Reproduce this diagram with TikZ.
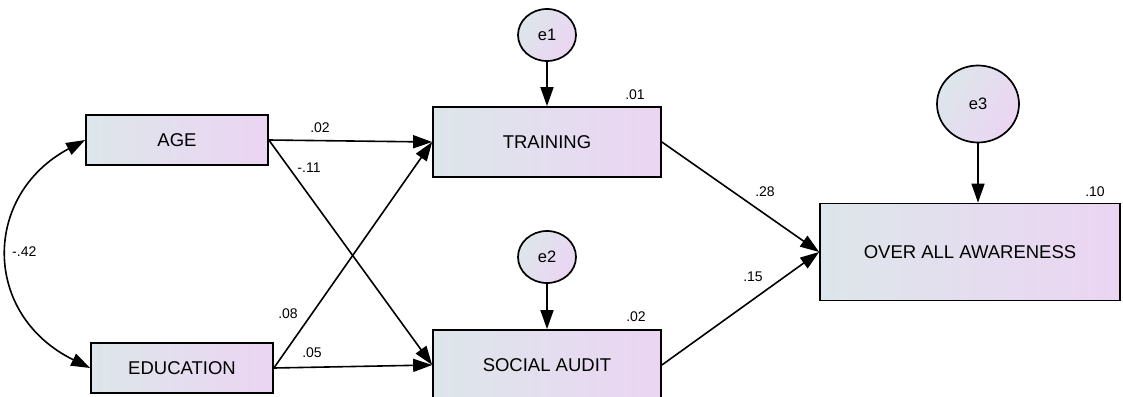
\documentclass[tikz,border=0pt]{standalone}
\usepackage{fontspec}
\setmainfont{Liberation Sans}
\usepackage{xcolor}
\usetikzlibrary{arrows.meta,shapes.geometric}
\definecolor{boxleft}{HTML}{DDE6EA}
\definecolor{boxright}{HTML}{EBD5F3}

\begin{document}
\begin{tikzpicture}[x=1pt,y=-1pt]
\tikzset{var/.style={draw,line width=1.7pt,left color=boxleft,right color=boxright,inner sep=0pt,font=\fontsize{18.5}{20}\selectfont}}
\tikzset{err/.style={draw,ellipse,line width=1.7pt,left color=boxleft,right color=boxright,shading angle=60,inner sep=0pt,font=\fontsize{16.5}{18}\selectfont}}
\tikzset{path/.style={line width=1.6pt,-{Triangle[length=19pt,width=13pt]}}}
\tikzset{covar/.style={line width=1.6pt,{Triangle[length=19pt,width=13pt]}-{Triangle[length=19pt,width=13pt]}}}
\tikzset{coef/.style={inner sep=0pt,font=\fontsize{14}{16}\selectfont}}

\useasboundingbox (0,0) rectangle (1123,396);

% observed variables
\node[var,minimum width=182pt,minimum height=50pt] (age) at (177,140) {AGE};
\node[var,minimum width=182pt,minimum height=50pt] (edu) at (182,368) {EDUCATION};
\node[var,minimum width=228pt,minimum height=70pt] (train) at (547,142) {TRAINING};
\node[var,minimum width=228pt,minimum height=70pt] (audit) at (547,365) {SOCIAL AUDIT};
\node[var,minimum width=300pt,minimum height=97pt] (aware) at (970,252) {OVER ALL AWARENESS};

% error terms
\node[err,minimum width=58pt,minimum height=52pt] (e1) at (547,35) {e1};
\node[err,minimum width=58pt,minimum height=52pt] (e2) at (547,257) {e2};
\node[err,minimum width=82pt,minimum height=77pt] (e3) at (978,104) {e3};

% paths
\draw[path] (age.east) -- (train.west);
\draw[path] (age.east) -- (audit.west);
\draw[path] (edu.east) -- (train.west);
\draw[path] (edu.east) -- (audit.west);
\draw[path] (train.east) -- (aware.west);
\draw[path] (audit.east) -- (aware.west);
\draw[path] (e1) -- (train.north);
\draw[path] (e2) -- (audit.north);
\draw[path] (e3) -- (e3 |- aware.north);
\draw[covar] (age.west) .. controls (-18,195) and (-18,315) .. (edu.west);

% estimates
\node[coef] (w1) at (320,128) {.02};
\node[coef] (w2) at (309,168) {-.11};
\node[coef] (w3) at (288,314) {.08};
\node[coef] (w4) at (312,353) {.05};
\node[coef] (w5) at (765,192) {.28};
\node[coef] (w6) at (753,277) {.15};
\node[coef] (r1) at (635,95) {.01};
\node[coef] (r2) at (636,317) {.02};
\node[coef] (r3) at (1095,192) {.10};
\node[coef,anchor=west] (c1) at (12,252) {-.42};

\end{tikzpicture}
\end{document}
